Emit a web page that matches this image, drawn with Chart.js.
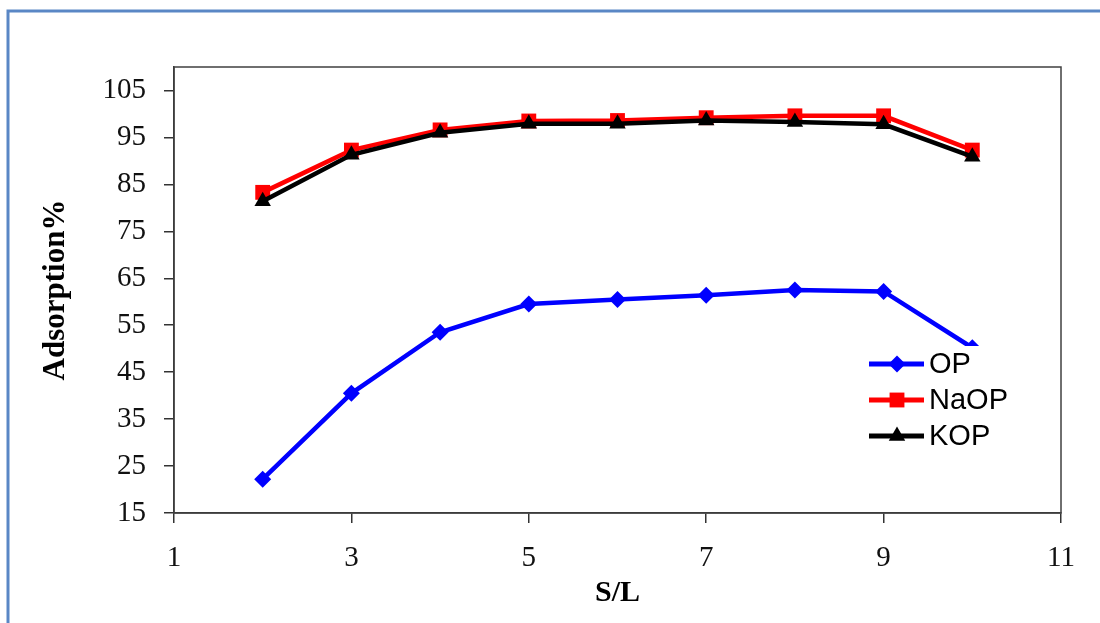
<!DOCTYPE html>
<html>
<head>
<meta charset="utf-8">
<script src="https://cdn.jsdelivr.net/npm/chart.js@4"></script>
<style>
  html, body { margin: 0; padding: 0; background: #fff; }
  #wrap { width: 1100px; height: 623px; position: relative; }
</style>
</head>
<body>
<div id="wrap"><canvas id="adsChart"></canvas></div>
<script>
const sl = [2, 3, 4, 5, 6, 7, 8, 9, 10];
const op = [22.2, 40.5, 53.5, 59.5, 60.5, 61.4, 62.5, 62.2, 50.2];
const naop = [83.3, 92.3, 96.6, 98.5, 98.6, 99.2, 99.6, 99.6, 92.3];
const kop = [81.4, 91.3, 96.0, 97.9, 97.9, 98.6, 98.3, 97.8, 90.9];
const xTicks = [1, 3, 5, 7, 9, 11];
const yTicks = [15, 25, 35, 45, 55, 65, 75, 85, 95, 105];

const seriesNames = ['OP', 'NaOP', 'KOP'];
const seriesColors = ['#0000FF', '#FF0000', '#000000'];
const seriesStyles = ['rectRot', 'rect', 'triangle'];
const seriesRadius = [8.5, 10.5, 9.5];

const toPoints = (vals) => sl.map((x, i) => ({ x: x, y: vals[i] }));

// outer blue frame + plot border
const framePlugin = {
    id: 'frame',
    beforeDraw(chart) {
        const ctx = chart.ctx;
        ctx.save();
        ctx.strokeStyle = '#5A87C5';
        ctx.lineWidth = 3;
        ctx.strokeRect(8, 11, 1200, 700);
        ctx.restore();
    },
    beforeDatasetsDraw(chart) {
        const a = chart.chartArea;
        const ctx = chart.ctx;
        ctx.save();
        ctx.strokeStyle = '#404040';
        ctx.lineWidth = 1.5;
        ctx.strokeRect(a.left, a.top, a.right - a.left, a.bottom - a.top);
        ctx.restore();
    }
};

// excel style legend: line with marker in the middle
const legendPlugin = {
    id: 'lineLegend',
    afterDatasetsDraw(chart) {
        const ctx = chart.ctx;
        ctx.save();
        ctx.fillStyle = '#fff';
        ctx.fillRect(862, 346, 148, 108);
        seriesNames.forEach((name, i) => {
            const y = 364 + i * 36;
            ctx.strokeStyle = seriesColors[i];
            ctx.lineWidth = 5;
            ctx.beginPath();
            ctx.moveTo(869, y);
            ctx.lineTo(924, y);
            ctx.stroke();
            ctx.fillStyle = seriesColors[i];
            Chart.helpers.drawPoint(ctx, {
                pointStyle: seriesStyles[i],
                radius: seriesRadius[i],
                borderWidth: 0
            }, 897, y);
            ctx.fillStyle = '#000';
            ctx.font = '29px "Liberation Sans", Arial, sans-serif';
            ctx.textBaseline = 'middle';
            ctx.fillText(name, 929, y + 1);
        });
        ctx.restore();
    }
};

const ctx = document.getElementById('adsChart').getContext('2d');

new Chart(ctx, {
    type: 'line',
    data: {
        datasets: seriesNames.map((name, i) => ({
            label: name,
            data: toPoints([op, naop, kop][i]),
            borderColor: seriesColors[i],
            backgroundColor: seriesColors[i],
            borderWidth: 4.5,
            pointStyle: seriesStyles[i],
            pointRadius: seriesRadius[i],
            pointBorderWidth: 0,
            tension: 0,
            order: 3 - i
        }))
    },
    options: {
        responsive: true,
        maintainAspectRatio: false,
        animation: false,
        layout: { padding: { top: 67, right: 39, left: 0, bottom: 0 } },
        plugins: {
            legend: { display: false },
            tooltip: { enabled: false }
        },
        scales: {
            x: {
                type: 'linear',
                min: 1,
                max: 11,
                afterBuildTicks: (scale) => { scale.ticks = xTicks.map(v => ({ value: v })); },
                afterFit: (scale) => { scale.height = 110; },
                grid: { drawOnChartArea: false, drawTicks: true, tickLength: 10, color: '#333', lineWidth: 1.5 },
                border: { display: true, color: '#333', width: 1.5 },
                ticks: {
                    padding: 18,
                    color: '#111',
                    maxRotation: 0,
                    font: { family: '"Liberation Serif", "Times New Roman", serif', size: 29 }
                },
                title: {
                    display: true,
                    text: 'S/L',
                    color: '#000',
                    padding: { top: 0, bottom: 12 },
                    font: { family: '"Liberation Serif", "Times New Roman", serif', size: 30, weight: 'bold' }
                }
            },
            y: {
                min: 15,
                max: 110,
                afterBuildTicks: (scale) => { scale.ticks = yTicks.map(v => ({ value: v })); },
                afterFit: (scale) => { scale.width = 174; },
                grid: { drawOnChartArea: false, drawTicks: true, tickLength: 10, color: '#333', lineWidth: 1.5 },
                border: { display: true, color: '#333', width: 1.5 },
                ticks: {
                    padding: 18,
                    color: '#111',
                    font: { family: '"Liberation Serif", "Times New Roman", serif', size: 29 }
                },
                title: {
                    display: true,
                    text: 'Adsorption%',
                    color: '#000',
                    padding: { top: 37, bottom: 0 },
                    font: { family: '"Liberation Serif", "Times New Roman", serif', size: 31, weight: 'bold' }
                }
            }
        }
    },
    plugins: [framePlugin, legendPlugin]
});
</script>
</body>
</html>
